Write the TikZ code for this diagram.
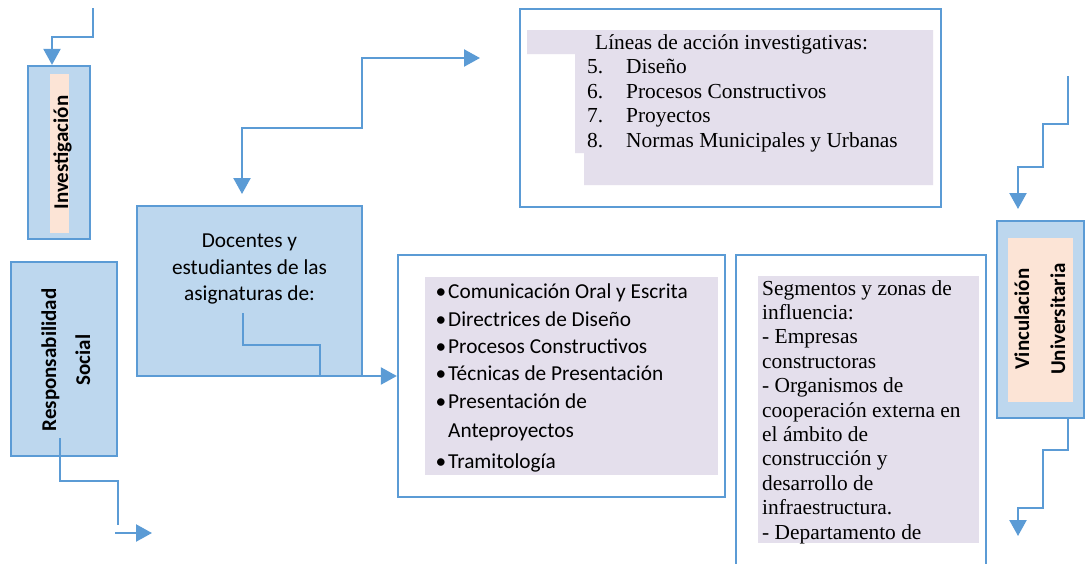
\documentclass[tikz,border=0pt]{standalone}
\usepackage{fontspec}
\setmainfont{Liberation Serif}
\setsansfont{Carlito}
\usetikzlibrary{arrows.meta}
\definecolor{boxblue}{HTML}{5B9BD5}
\definecolor{fillblue}{HTML}{BDD7EE}
\definecolor{peach}{HTML}{FCE4D6}
\definecolor{lavender}{HTML}{E4DFEC}

\begin{document}
\begin{tikzpicture}[
    x=1pt, y=-1pt,
    >={Triangle[length=16pt,width=17pt]},
    box/.style={
        draw=boxblue,
        line width=2.3pt,
        inner sep=0pt,
        fill=white
    },
    blue box/.style={box, fill=fillblue},
    serif/.style={font=\fontsize{21.4}{24.5}\selectfont, inner sep=0pt, anchor=base west},
    sans/.style={font=\sffamily\fontsize{21.3}{26}\selectfont, inner sep=0pt},
    sidetext/.style={font=\sffamily\bfseries\fontsize{21}{26}\selectfont, inner sep=0pt, rotate=90, anchor=base},
    wire/.style={draw=boxblue, line width=2.3pt},
    link/.style={wire, ->}
]
    \useasboundingbox (0,0) rectangle (1087,563);
    \clip (0,0) rectangle (1087,563);

    \node[blue box, minimum width=62pt, minimum height=173pt] (inv) at (59,152.5) {};
    \fill[peach] (50,74) rectangle (69,233);
    \node[sidetext] (invtxt) at (68,152.5) {Investigación};

    \node[blue box, minimum width=106pt, minimum height=194pt] (resp) at (64,359) {};
    \node[sidetext] (resptxt) at (56,360) {Responsabilidad};
    \node[sidetext] (soctxt) at (90,360) {Social};

    \node[blue box, minimum width=225pt, minimum height=170pt] (doc) at (249.5,291) {};
    \node[sans, anchor=base] (doc1) at (249.5,247.5) {Docentes y};
    \node[sans, anchor=base] (doc2) at (249.5,274) {estudiantes de las};
    \node[sans, anchor=base] (doc3) at (249.5,300.5) {asignaturas de:};

    \node[box, minimum width=421pt, minimum height=198pt] (lin) at (730.5,108) {};
    \fill[lavender] (527,30) -- (933,30) -- (933,185) -- (584,185) -- (584,153)
        -- (575,153) -- (575,54) -- (527,54) -- cycle;
    \node[serif] (lintit) at (595,49) {Líneas de acción investigativas:};
    \foreach \n/\txt [count=\i from 0] in {5/Diseño, 6/Procesos Constructivos, 7/Proyectos, 8/Normas Municipales y Urbanas} {
        \node[serif] (num\n) at (587,73.5+24.5*\i) {\n.};
        \node[serif] (lin\n) at (626,73.5+24.5*\i) {\txt};
    }

    \node[box, minimum width=327pt, minimum height=242pt] (asig) at (561.5,376) {};
    \fill[lavender] (425,277) rectangle (718,475);
    \foreach \y/\txt [count=\i] in {298/Comunicación Oral y Escrita, 326/Directrices de Diseño, 353/Procesos Constructivos, 380/Técnicas de Presentación, 408/Presentación de, 437/Anteproyectos, 468/Tramitología}
        \node[sans, anchor=base west] (asig\i) at (448,\y) {\txt};
    \foreach \i in {1,2,3,4,5,7}
        \node[sans, anchor=base] at ([xshift=-7pt]asig\i.base west) {\textbullet};

    \node[box, minimum width=250pt, minimum height=315pt] (seg) at (861,412.5) {};
    \fill[lavender] (758,276) rectangle (979,543);
    \foreach \txt [count=\i from 0] in {Segmentos y zonas de, influencia:, - Empresas, constructoras, - Organismos de, cooperación externa en, el ámbito de, construcción y, desarrollo de, infraestructura., - Departamento de}
        \node[serif] (seg\i) at (762,295+24.4*\i) {\txt};

    \node[blue box, minimum width=87pt, minimum height=197pt] (vin) at (1040.5,319.5) {};
    \fill[peach] (1008,238) rectangle (1073,402);
    \node[sidetext] (vintxt) at (1029,319) {Vinculación};
    \node[sidetext] (unitxt) at (1065,319) {Universitaria};

    \coordinate (invin) at (93,8);
    \coordinate (invbend) at (52,37);
    \draw[link] (invin) |- (invbend) -- (inv.north -| invbend);

    \coordinate (respout) at (60,438);
    \coordinate (respA) at (115,533);
    \coordinate (respB) at (152,533);
    \draw[wire] (respout) |- (118,481) -- (118,525);
    \draw[link] (respA) -- (respB);

    \coordinate (docup) at (242,194);
    \coordinate (linin) at (480,58);
    \draw[link, <->] (docup) |- (362,128) |- (linin);

    \coordinate (docout) at (243,313);
    \draw[link] (docout) |- (320,345) |- (asig.west);

    \coordinate (vintop) at (1068,76);
    \coordinate (vinin) at (1018,209);
    \draw[link] (vintop) |- (1043,124) |- (1018,167) -- (vinin);

    \coordinate (vinout) at ([xshift=27.5pt]vin.south);
    \coordinate (vinend) at (1018,536);
    \draw[link] (vinout) |- (1043,450) |- (1018,508) -- (vinend);
\end{tikzpicture}
\end{document}
